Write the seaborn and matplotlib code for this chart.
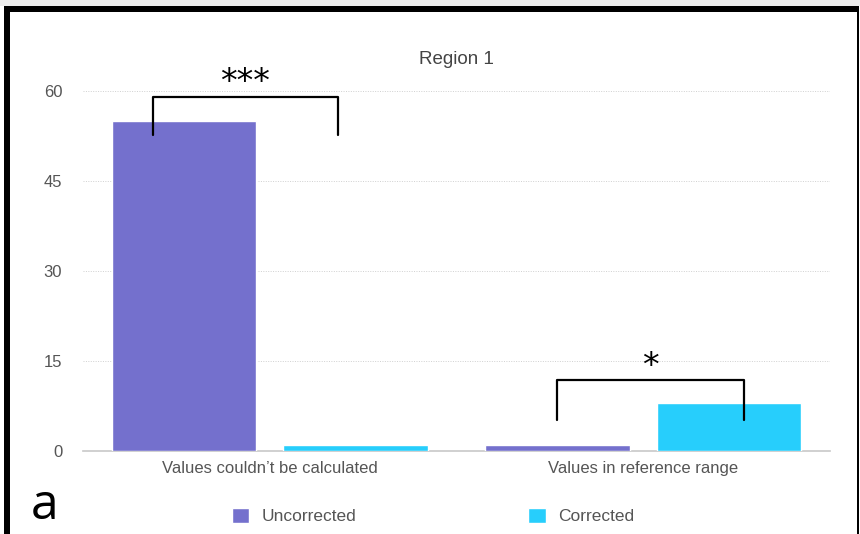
import matplotlib
matplotlib.use("Agg")
import matplotlib.pyplot as plt
from matplotlib.patches import Rectangle
import seaborn as sns
import pandas as pd

# Counts per category and correction status
categories = ["Values couldn\u2019t be calculated", "Values in reference range"]
uncorrected = [55, 1]
corrected = [1, 8]
series_names = ["Uncorrected", "Corrected"]
yticks = [0, 15, 30, 45, 60]
title = "Region 1"
panel_label = "a"
# significance markers: (category index, bracket label)
significance = [(0, "***"), (1, "*")]

df = pd.DataFrame({
    "category": categories * 2,
    "status": [series_names[0]] * len(categories) + [series_names[1]] * len(categories),
    "count": uncorrected + corrected,
})

sns.set_theme(style="white")
plt.rcParams["font.family"] = ["Liberation Sans", "DejaVu Sans"]

W, H = 860, 534
fig = plt.figure(figsize=(W / 100, H / 100), dpi=100)
ax = fig.add_axes([83 / W, 1 - 451 / H, (830 - 83) / W, 372 / H])

palette = {"Uncorrected": "#7470CD", "Corrected": "#27CEFC"}
sns.barplot(data=df, x="category", y="count", hue="status",
            hue_order=series_names, palette=palette, width=0.92, gap=0.16,
            saturation=1, ax=ax, legend=True, zorder=3)

ax.set_ylim(0, 62)
ax.set_xlim(-0.5, 1.5)
ax.set_yticks(yticks)
ax.set_xlabel("")
ax.set_ylabel("")
for s in ["top", "right", "left"]:
    ax.spines[s].set_visible(False)
ax.spines["bottom"].set_color("#c8c8c8")
ax.spines["bottom"].set_linewidth(1.2)
ax.yaxis.grid(True, linestyle=(0, (1, 1.5)), color="#d0d0d0", linewidth=0.7)
ax.xaxis.grid(False)
ax.tick_params(axis="y", length=0, pad=15, labelsize=12, labelcolor="#555555")
ax.tick_params(axis="x", length=0, pad=7, labelsize=12, labelcolor="#555555")

# Significance brackets
brackets = {
    0: dict(x0=-0.313, x1=0.184, ybot=52.7, ytop=59.0, tx=-0.065, ty=58.7, size=24),
    1: dict(x0=-0.23, x1=0.27, ybot=5.2, ytop=11.8, tx=0.02, ty=11.3, size=24),
}
for idx, label in significance:
    b = brackets[idx]
    ax.plot([idx + b["x0"], idx + b["x0"], idx + b["x1"], idx + b["x1"]],
            [b["ybot"], b["ytop"], b["ytop"], b["ybot"]],
            color="black", linewidth=1.6, clip_on=False, zorder=5)
    ax.text(idx + b["tx"], b["ty"], label, ha="center", va="bottom",
            fontsize=b["size"], color="black", family=["DejaVu Sans"])

fig.text(456 / W, 1 - 59 / H, title, ha="center", va="center",
         fontsize=13.5, color="#444444")

# Legend below the chart
handles, labels = ax.get_legend_handles_labels()
ax.legend(handles, labels, loc="center left",
          bbox_to_anchor=(232 / W, 1 - 516 / H), bbox_transform=fig.transFigure,
          ncol=2, frameon=False, fontsize=12.5, handlelength=1.0, handleheight=1.0,
          handletextpad=0.7, columnspacing=9.9, borderpad=0, borderaxespad=0,
          labelcolor="#555555")

fig.text(45 / W, 1 - 506 / H, panel_label, ha="center", va="center",
         fontsize=36, color="black", family=["Open Sans", "DejaVu Sans"])

# Frame around the panel
fig.add_artist(Rectangle((0, 1 - 6 / H), 1, 6 / H, transform=fig.transFigure,
                         facecolor="#ededed", edgecolor="none", zorder=0))
fig.add_artist(Rectangle((4 / W, 1 - 12 / H), (859 - 4) / W, 6 / H,
                         transform=fig.transFigure, facecolor="black",
                         edgecolor="none", zorder=10))
fig.add_artist(Rectangle((4 / W, 0), 6 / W, 1 - 6 / H, transform=fig.transFigure,
                         facecolor="black", edgecolor="none", zorder=10))
fig.add_artist(Rectangle((857 / W, 0), 2 / W, 1 - 6 / H, transform=fig.transFigure,
                         facecolor="black", edgecolor="none", zorder=10))

fig.savefig("out.png", dpi=100)
